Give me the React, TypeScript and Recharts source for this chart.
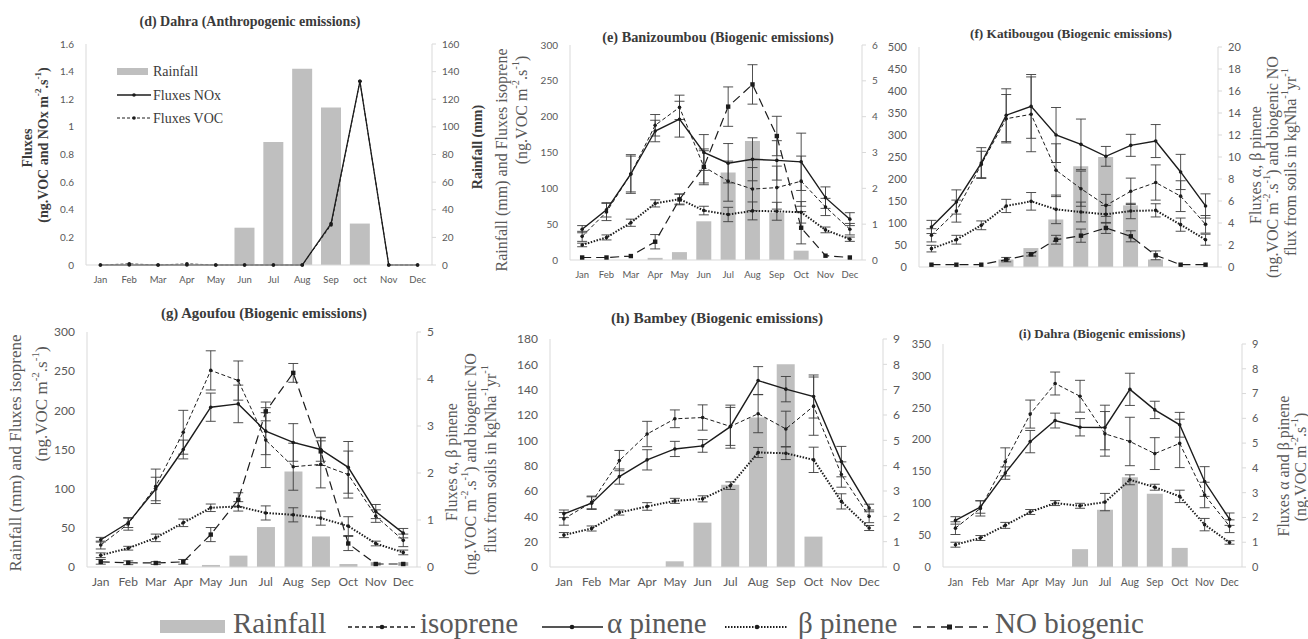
import React from 'react';
import { ComposedChart, Bar, Line, XAxis, YAxis, ErrorBar } from 'recharts';

// ---------- categories ----------
const MONTHS = ['Jan', 'Feb', 'Mar', 'Apr', 'May', 'Jun', 'Jul', 'Aug', 'Sep', 'Oct', 'Nov', 'Dec'];
const MONTHS_D = ['Jan', 'Feb', 'Mar', 'Apr', 'May', 'Jun', 'Jul', 'Aug', 'Sep', 'oct', 'Nov', 'Dec'];

// ---------- (d) Dahra anthropogenic ----------
const rainD = [0, 0, 0, 0, 0, 27, 89, 142, 114, 30, 0, 0];
const noxD = [0, 0, 0, 0, 0, 0, 0, 0, 0.3, 1.33, 0, 0];
const vocD = [0, 0.008, 0, 0.008, 0, 0, 0, 0, 0.29, 1.33, 0, 0];
const ticksDL = [0, 0.2, 0.4, 0.6, 0.8, 1, 1.2, 1.4, 1.6];
const ticksDR = [0, 20, 40, 60, 80, 100, 120, 140, 160];

// ---------- (e) Banizoumbou ----------
const rainE = [0, 0, 0, 3, 11, 54, 122, 166, 66, 13, 0, 0];
const isoE = [33, 67, 120, 188, 213, 130, 110, 99, 101, 110, 74, 43];
const isoEErr = [7, 12, 27, 15, 17, 25, 28, 30, 30, 35, 12, 8];
const alphaE = [0.86, 1.4, 2.4, 3.6, 3.93, 3.0, 2.7, 2.81, 2.78, 2.74, 1.74, 1.14];
const alphaEErr = [0.1, 0.2, 0.5, 0.3, 0.5, 0.5, 0.55, 0.6, 0.55, 0.8, 0.3, 0.18];
const betaE = [0.42, 0.63, 1.04, 1.58, 1.7, 1.38, 1.27, 1.37, 1.36, 1.33, 0.84, 0.58];
const betaEErr = [0.05, 0.07, 0.1, 0.1, 0.14, 0.12, 0.2, 0.25, 0.25, 0.3, 0.08, 0.06];
const noE = [0.07, 0.07, 0.11, 0.51, 1.69, 2.6, 4.28, 4.9, 3.46, 0.9, 0.12, 0.07];
const noEErr = [0, 0, 0, 0.2, 0.15, 0.45, 0.55, 0.55, 0.55, 0.45, 0, 0];
const ticksEL = [0, 50, 100, 150, 200, 250, 300];
const ticksER = [0, 1, 2, 3, 4, 5, 6];

// ---------- (f) Katibougou ----------
const rainF = [0, 0, 0, 17, 43, 108, 229, 250, 140, 17, 0, 0];
const isoF = [72, 127, 233, 337, 347, 220, 178, 140, 172, 192, 161, 97];
const isoFErr = [15, 25, 30, 55, 85, 60, 40, 25, 30, 40, 35, 20];
const alphaF = [3.64, 5.91, 9.45, 13.8, 14.6, 12.0, 11.15, 10.06, 11.06, 11.45, 8.64, 5.55];
const alphaFErr = [0.6, 1.1, 1.4, 2.4, 2.9, 2.5, 2.3, 0.9, 1.0, 1.5, 1.6, 1.1];
const betaF = [1.67, 2.48, 3.79, 5.55, 5.97, 5.24, 5.0, 4.79, 5.09, 5.15, 3.85, 2.48];
const betaFErr = [0.3, 0.4, 0.4, 0.6, 0.8, 1.3, 0.9, 0.8, 0.7, 0.6, 0.6, 0.5];
const noF = [0.21, 0.21, 0.21, 0.67, 1.15, 2.48, 2.85, 3.55, 2.79, 1.06, 0.21, 0.21];
const noFErr = [0, 0, 0, 0.2, 0.15, 0.4, 0.6, 0.5, 0.5, 0.4, 0, 0];
const ticksFL = [0, 50, 100, 150, 200, 250, 300, 350, 400, 450, 500];
const ticksFR = [0, 2, 4, 6, 8, 10, 12, 14, 16, 18, 20];

// ---------- (g) Agoufou ----------
const rainG = [0, 0, 0, 0, 2.6, 14.5, 51, 122, 39, 3.8, 0, 0];
const isoG = [28, 55, 103, 172, 251, 238, 162, 128, 131, 118, 65, 34];
const isoGErr = [5, 8, 22, 28, 25, 25, 35, 30, 30, 30, 8, 8];
const alphaG = [0.58, 0.94, 1.66, 2.5, 3.4, 3.47, 2.89, 2.65, 2.5, 2.12, 1.18, 0.72];
const alphaGErr = [0.05, 0.1, 0.25, 0.2, 0.3, 0.4, 0.5, 0.4, 0.25, 0.55, 0.15, 0.1];
const betaG = [0.25, 0.4, 0.62, 0.94, 1.26, 1.29, 1.15, 1.11, 1.04, 0.87, 0.5, 0.31];
const betaGErr = [0.05, 0.04, 0.08, 0.08, 0.08, 0.1, 0.15, 0.15, 0.15, 0.2, 0.05, 0.05];
const noG = [0.11, 0.09, 0.085, 0.11, 0.69, 1.43, 3.31, 4.13, 2.46, 0.5, 0.064, 0.064];
const noGErr = [0.05, 0.04, 0.03, 0.05, 0.15, 0.15, 0.2, 0.2, 0.3, 0.15, 0.02, 0.02];
const ticksGL = [0, 50, 100, 150, 200, 250, 300];
const ticksGR = [0, 1, 2, 3, 4, 5];

// ---------- (h) Bambey ----------
const rainH = [0, 0, 0, 0, 4.5, 35, 65, 118, 160, 24, 0, 0];
const isoH = [38, 51, 84, 105, 117, 118, 111, 121, 109, 127, 73, 40];
const isoHErr = [5, 5, 8, 10, 7, 10, 15, 15, 14, 23, 10, 5];
const alphaH = [2.1, 2.52, 3.57, 4.23, 4.66, 4.78, 5.54, 7.36, 7.02, 6.73, 4.16, 2.33];
const alphaHErr = [0.15, 0.25, 0.3, 0.4, 0.3, 0.25, 0.85, 0.55, 0.5, 0.85, 0.6, 0.15];
const betaH = [1.26, 1.52, 2.15, 2.39, 2.61, 2.69, 3.21, 4.52, 4.49, 4.23, 2.59, 1.54];
const betaHErr = [0.1, 0.1, 0.1, 0.15, 0.1, 0.12, 0.15, 0.2, 0.25, 0.5, 0.3, 0.1];
const ticksHL = [0, 20, 40, 60, 80, 100, 120, 140, 160, 180];
const ticksHR = [0, 1, 2, 3, 4, 5, 6, 7, 8, 9];

// ---------- (i) Dahra biogenic ----------
const rainI = [0, 0, 0, 0, 0, 28, 90, 141, 115, 30, 0, 0];
const isoI = [61, 92, 165, 240, 288, 268, 209, 197, 178, 194, 113, 64];
const isoIErr = [10, 12, 22, 22, 18, 25, 35, 38, 25, 38, 20, 10];
const alphaI = [1.88, 2.42, 3.79, 5.06, 5.91, 5.64, 5.63, 7.17, 6.34, 5.74, 3.45, 1.93];
const alphaIErr = [0.15, 0.25, 0.25, 0.45, 0.3, 0.35, 0.9, 0.65, 0.35, 0.5, 0.6, 0.25];
const betaI = [0.9, 1.17, 1.68, 2.22, 2.58, 2.47, 2.62, 3.52, 3.22, 2.85, 1.71, 0.99];
const betaIErr = [0.1, 0.1, 0.12, 0.1, 0.1, 0.1, 0.35, 0.2, 0.12, 0.25, 0.25, 0.07];
const ticksIL = [0, 50, 100, 150, 200, 250, 300, 350];
const ticksIR = [0, 1, 2, 3, 4, 5, 6, 7, 8, 9];

// ---------- styles ----------
const INK = '#1c1c1c';
const ERR = '#3c3c3c';
const BAR = '#bfbfbf';
const AX = '#d9d9d9';
const TICK = '#595959';
const TTL = '#3a3a3a';
const SANS = "Lato, 'Liberation Sans', sans-serif";
const SERIF = "'Liberation Serif', 'DejaVu Serif', serif";

const build = (cats: string[], cols: Record<string, number[]>) =>
  cats.map((m, i) => {
    const r: any = { m };
    Object.keys(cols).forEach((k) => (r[k] = cols[k][i]));
    return r;
  });

const rowsD = build(MONTHS_D, { rain: rainD, nox: noxD, voc: vocD });
const rowsE = build(MONTHS, { rain: rainE, iso: isoE, isoErr: isoEErr, alpha: alphaE, alphaErr: alphaEErr, beta: betaE, betaErr: betaEErr, no: noE, noErr: noEErr });
const rowsF = build(MONTHS, { rain: rainF, iso: isoF, isoErr: isoFErr, alpha: alphaF, alphaErr: alphaFErr, beta: betaF, betaErr: betaFErr, no: noF, noErr: noFErr });
const rowsG = build(MONTHS, { rain: rainG, iso: isoG, isoErr: isoGErr, alpha: alphaG, alphaErr: alphaGErr, beta: betaG, betaErr: betaGErr, no: noG, noErr: noGErr });
const rowsH = build(MONTHS, { rain: rainH, iso: isoH, isoErr: isoHErr, alpha: alphaH, alphaErr: alphaHErr, beta: betaH, betaErr: betaHErr });
const rowsI = build(MONTHS, { rain: rainI, iso: isoI, isoErr: isoIErr, alpha: alphaI, alphaErr: alphaIErr, beta: betaI, betaErr: betaIErr });

const dotC = { r: 1.8, fill: INK, stroke: 'none' };
const dotSq = (p: any) => (
  <rect key={`sq-${p.index}`} x={p.cx - 2.2} y={p.cy - 2.2} width={4.4} height={4.4} fill={INK} />
);

const eb = (k: string) => <ErrorBar dataKey={k} width={5} stroke={ERR} strokeWidth={0.9} direction="y" />;

const rainBar = (axis: string) => (
  <Bar key="rain" yAxisId={axis} dataKey="rain" fill={BAR} isAnimationActive={false} />
);
const isoLine = (axis: string) => (
  <Line key="iso" yAxisId={axis} dataKey="iso" stroke={INK} strokeWidth={1} strokeDasharray="4 2.5" dot={dotC} activeDot={false} isAnimationActive={false}>
    {eb('isoErr')}
  </Line>
);
const alphaLine = (axis: string) => (
  <Line key="alpha" yAxisId={axis} dataKey="alpha" stroke={INK} strokeWidth={1.4} dot={dotC} activeDot={false} isAnimationActive={false}>
    {eb('alphaErr')}
  </Line>
);
const betaLine = (axis: string) => (
  <Line key="beta" yAxisId={axis} dataKey="beta" stroke={INK} strokeWidth={2} strokeDasharray="1.5 1.5" dot={dotC} activeDot={false} isAnimationActive={false}>
    {eb('betaErr')}
  </Line>
);
const noLine = (axis: string) => (
  <Line key="no" yAxisId={axis} dataKey="no" stroke={INK} strokeWidth={1.2} strokeDasharray="9 5" dot={dotSq} activeDot={false} isAnimationActive={false}>
    {eb('noErr')}
  </Line>
);

type Geo = { pl: number; pr: number; pt: number; pb: number; fs: number; xfs: number; gap: string; showX?: boolean };

const LW = 40;
const RW = 40;
const MT = 12;

function panel(key: string, rows: any[], g: Geo, lTicks: number[], rTicks: number[], els: React.ReactNode[], lFmt?: (v: number) => string) {
  const w = g.pr - g.pl + LW + RW;
  const h = g.pb - g.pt + MT + 30;
  const tickStyle = { fill: TICK, fontSize: g.fs, fontFamily: SANS };
  return (
    <div key={key} style={{ position: 'absolute', left: g.pl - LW, top: g.pt - MT }}>
      <ComposedChart width={w} height={h} data={rows} margin={{ top: MT, right: 0, bottom: 0, left: 0 }} barCategoryGap={g.gap}>
        <XAxis
          dataKey="m"
          height={30}
          interval={0}
          axisLine={{ stroke: AX }}
          tickLine={false}
          tickSize={0}
          tickMargin={18 - 0.36 * g.xfs - 3}
          tick={g.showX === false ? false : { fill: TICK, fontSize: g.xfs, fontFamily: SANS }}
        />
        <YAxis
          yAxisId="L"
          orientation="left"
          width={LW}
          domain={[lTicks[0], lTicks[lTicks.length - 1]]}
          ticks={lTicks}
          interval={0}
          axisLine={{ stroke: AX }}
          tickLine={false}
          tickSize={0}
          tickMargin={12}
          tick={tickStyle}
          tickFormatter={lFmt}
        />
        <YAxis
          yAxisId="R"
          orientation="right"
          width={RW}
          domain={[rTicks[0], rTicks[rTicks.length - 1]]}
          ticks={rTicks}
          interval={0}
          axisLine={{ stroke: AX }}
          tickLine={{ stroke: AX }}
          tickSize={4}
          tickMargin={6}
          tick={tickStyle}
        />
        {els}
      </ComposedChart>
    </div>
  );
}

// ---------- text helpers ----------
// parts: plain strings are normal text, one-element arrays are superscripts
type Part = string | [string];
function rich(parts: Part[], fs: number) {
  let raised = false;
  return parts.map((p, i) => {
    if (Array.isArray(p)) {
      const el = (
        <tspan key={i} dy={raised ? 0 : -fs * 0.38} style={{ fontSize: fs * 0.65 }}>
          {p[0]}
        </tspan>
      );
      raised = true;
      return el;
    }
    const el = (
      <tspan key={i} dy={raised ? fs * 0.38 : 0}>
        {p}
      </tspan>
    );
    raised = false;
    return el;
  });
}

function VText({ x, y, fs, bold, fill, parts }: { x: number; y: number; fs: number; bold?: boolean; fill?: string; parts: Part[] }) {
  return (
    <text
      x={x}
      y={y}
      transform={`rotate(-90 ${x} ${y})`}
      textAnchor="middle"
      dominantBaseline="central"
      style={{ fontFamily: SERIF, fontSize: fs, fontWeight: bold ? 700 : 400, fill: fill || TICK }}
    >
      {rich(parts, fs)}
    </text>
  );
}

const UNIT: Part[] = ['(ng.VOC m', ['-2'], '.s', ['-1'], ')'];

function FluxTitle3({ x1, x2, x3, y, fs }: { x1: number; x2: number; x3: number; y: number; fs: number }) {
  return (
    <>
      <VText x={x1} y={y} fs={fs} parts={['Fluxes α, β pinene']} />
      <VText x={x2} y={y + 2} fs={fs} parts={[...UNIT, ' and biogenic NO']} />
      <VText x={x3} y={y - 3} fs={fs} parts={['flux from soils in kgNha', ['-1'], 'yr', ['-1']]} />
    </>
  );
}

const titles = [
  { t: '(d) Dahra (Anthropogenic emissions)', x: 250, y: 21, fs: 14 },
  { t: '(e) Banizoumbou (Biogenic emissions)', x: 718, y: 37, fs: 14.3 },
  { t: '(f) Katibougou (Biogenic emissions)', x: 1071, y: 33, fs: 13.3 },
  { t: '(g) Agoufou (Biogenic emissions)', x: 264, y: 313, fs: 14.8 },
  { t: '(h) Bambey (Biogenic emissions)', x: 717, y: 317, fs: 15.3 },
  { t: '(i) Dahra (Biogenic emissions)', x: 1102, y: 333, fs: 13 },
];

const legendText = (x: number, t: string) => (
  <text x={x} y={633} style={{ fontFamily: SERIF, fontSize: 29, fill: TICK }}>
    {t}
  </text>
);

const innerText = (y: number, t: string) => (
  <text x={153} y={y} dominantBaseline="central" style={{ fontFamily: SERIF, fontSize: 14, fill: TTL }}>
    {t}
  </text>
);

export default function App() {
  const geoD: Geo = { pl: 86, pr: 432, pt: 44, pb: 265, fs: 10, xfs: 9.5, gap: '15%' };
  const geoE: Geo = { pl: 570, pr: 862, pt: 45, pb: 260, fs: 10, xfs: 9.5, gap: '19%' };
  const geoF: Geo = { pl: 919, pr: 1218, pt: 47, pb: 267, fs: 11, xfs: 10, gap: '19%', showX: false };
  const geoG: Geo = { pl: 87, pr: 417, pt: 332, pb: 567, fs: 12, xfs: 12, gap: '18%' };
  const geoH: Geo = { pl: 550, pr: 883, pt: 339, pb: 567, fs: 12, xfs: 12, gap: '17%' };
  const geoI: Geo = { pl: 943, pr: 1242, pt: 344, pb: 567, fs: 11, xfs: 10.5, gap: '18%' };

  const fmtD = (v: number) => String(Math.round(v * 10) / 10);

  const elsD = [
    <Bar key="rain" yAxisId="R" dataKey="rain" fill={BAR} isAnimationActive={false} />,
    <Line key="voc" yAxisId="L" dataKey="voc" stroke={INK} strokeWidth={1} strokeDasharray="3 2" dot={dotC} activeDot={false} isAnimationActive={false} />,
    <Line key="nox" yAxisId="L" dataKey="nox" stroke={INK} strokeWidth={1.3} dot={dotC} activeDot={false} isAnimationActive={false} />,
  ];

  return (
    <div style={{ position: 'absolute', left: 0, top: 0, width: 1308, height: 639, background: '#fff', overflow: 'hidden' }}>
      {panel('d', rowsD, geoD, ticksDL, ticksDR, elsD, fmtD)}
      {panel('e', rowsE, geoE, ticksEL, ticksER, [rainBar('L'), noLine('R'), betaLine('R'), isoLine('L'), alphaLine('R')])}
      {panel('f', rowsF, geoF, ticksFL, ticksFR, [rainBar('L'), noLine('R'), betaLine('R'), isoLine('L'), alphaLine('R')])}
      {panel('g', rowsG, geoG, ticksGL, ticksGR, [rainBar('L'), noLine('R'), betaLine('R'), isoLine('L'), alphaLine('R')])}
      {panel('h', rowsH, geoH, ticksHL, ticksHR, [rainBar('L'), betaLine('R'), isoLine('L'), alphaLine('R')])}
      {panel('i', rowsI, geoI, ticksIL, ticksIR, [rainBar('L'), betaLine('R'), isoLine('L'), alphaLine('R')])}

      <svg width={1308} height={639} style={{ position: 'absolute', left: 0, top: 0, pointerEvents: 'none' }}>
        {titles.map((t) => (
          <text
            key={t.t}
            x={t.x}
            y={t.y}
            textAnchor="middle"
            dominantBaseline="central"
            style={{ fontFamily: SERIF, fontWeight: 700, fontSize: t.fs, fill: TTL }}
          >
            {t.t}
          </text>
        ))}

        {/* (d) axis titles */}
        <VText x={27} y={148} fs={14} bold fill={TTL} parts={['Fluxes']} />
        <VText x={43} y={145} fs={14} bold fill={TTL} parts={['(ng.VOC and NOx m', ['-2'], '.s', ['-1'], ')']} />
        <VText x={477} y={147} fs={14} bold fill={TTL} parts={['Rainfall (mm)']} />

        {/* (d) inner legend */}
        <rect x={117} y={68} width={31} height={7} fill={BAR} />
        {innerText(71, 'Rainfall')}
        <line x1={117} x2={151} y1={95} y2={95} stroke={INK} strokeWidth={1.3} />
        <circle cx={134} cy={95} r={1.8} fill={INK} />
        {innerText(95, 'Fluxes NOx')}
        <line x1={117} x2={151} y1={118} y2={118} stroke={INK} strokeWidth={1} strokeDasharray="3 2" />
        <circle cx={134} cy={118} r={1.8} fill={INK} />
        {innerText(118, 'Fluxes VOC')}

        {/* (e) left */}
        <VText x={501} y={160} fs={16} parts={['Rainfall (mm) and Fluxes isoprene']} />
        <VText x={521} y={110} fs={16} parts={UNIT} />

        {/* (f) right */}
        <FluxTitle3 x1={1255} x2={1272} x3={1290} y={165} fs={16} />

        {/* (g) left */}
        <VText x={15} y={453} fs={17} parts={['Rainfall (mm) and Fluxes isoprene']} />
        <VText x={41} y={404} fs={17} parts={UNIT} />

        {/* (g) right */}
        <FluxTitle3 x1={451} x2={470} x3={490} y={462} fs={16} />

        {/* (i) right */}
        <VText x={1283} y={466} fs={16} parts={['Fluxes α and β pinene']} />
        <VText x={1300} y={467} fs={16} parts={UNIT} />

        {/* bottom legend */}
        <rect x={160} y={620} width={65} height={13} fill={BAR} />
        {legendText(233, 'Rainfall')}
        <line x1={348} x2={417} y1={627} y2={627} stroke={INK} strokeWidth={1.3} strokeDasharray="4 3" />
        <circle cx={382} cy={627} r={2.3} fill={INK} />
        {legendText(420, 'isoprene')}
        <line x1={542} x2={603} y1={627} y2={627} stroke={INK} strokeWidth={1.6} />
        <circle cx={572} cy={627} r={2.3} fill={INK} />
        {legendText(607, 'α pinene')}
        <line x1={725} x2={788} y1={627} y2={627} stroke={INK} strokeWidth={2} strokeDasharray="1.5 1.5" />
        <circle cx={757} cy={627} r={2.3} fill={INK} />
        {legendText(798, 'β pinene')}
        <line x1={913} x2={988} y1={627} y2={627} stroke={INK} strokeWidth={1.3} strokeDasharray="8 6" />
        <rect x={947} y={624.5} width={5} height={5} fill={INK} />
        {legendText(995, 'NO biogenic')}
      </svg>
    </div>
  );
}
